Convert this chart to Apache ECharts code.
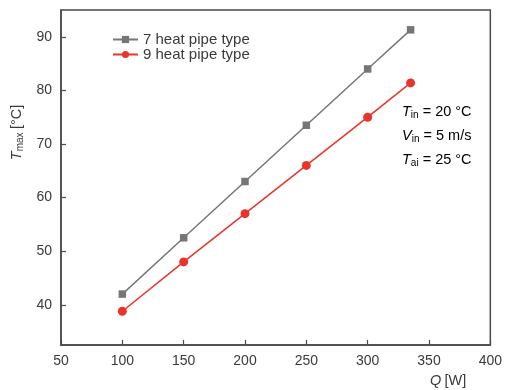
<!DOCTYPE html>
<html><head><meta charset="utf-8">
<script src="https://cdn.jsdelivr.net/npm/echarts@6/dist/echarts.min.js"></script>
<style>html,body{margin:0;padding:0;background:#fff}#c{width:505px;height:390px}</style>
</head><body><div id="c"></div>
<script>
const qValues = [100, 150, 200, 250, 300, 335];
const sevenPipe = [42, 52.5, 63, 73.5, 84, 91.3];
const ninePipe = [38.8, 48, 57, 66, 75, 81.4];
const seriesNames = ['7 heat pipe type', '9 heat pipe type'];
const xTicks = [50, 100, 150, 200, 250, 300, 350, 400];
const yTicks = [40, 50, 60, 70, 80, 90];

const font = 'Liberation Sans, Arial, sans-serif';
const txt = '#3a3a3a';
const chart = echarts.init(document.getElementById('c'));
const rich = {
  i: {fontFamily: font, fontStyle: 'italic', fontSize: 14.5, color: txt},
  r: {fontFamily: font, fontSize: 14.5, color: txt},
  s: {fontFamily: font, fontSize: 10, color: txt, padding: [8, 0, 0, 0]}
};
chart.setOption({
  animation: false,
  grid: {left: 61, right: 14, top: 10, bottom: 45, show: true, borderColor: '#4a4a4a', borderWidth: 1.5},
  legend: {
    orient: 'vertical', left: 107, top: 27, itemGap: 0, itemWidth: 25, itemHeight: 9,
    textStyle: {fontFamily: font, fontSize: 15, color: txt},
    data: seriesNames
  },
  xAxis: {
    type: 'value', min: 50, max: 400, interval: 50,
    name: '{i|Q} {r|[W]}', nameLocation: 'end', nameGap: 0,
    nameTextStyle: {rich: rich, align: 'right', verticalAlign: 'top', padding: [28, 24, 0, 0]},
    axisLine: {show: true, lineStyle: {color: '#4a4a4a', width: 1.5}},
    axisTick: {show: true, inside: true, length: 5, lineStyle: {color: '#4a4a4a', width: 1.2}},
    axisLabel: {fontFamily: font, fontSize: 14, color: txt, margin: 9,
      formatter: v => xTicks.includes(v) ? String(v) : ''},
    splitLine: {show: false}
  },
  yAxis: {
    type: 'value', min: 32.5, max: 95,
    name: '{i|T}{s|max} {r|[°C]}', nameLocation: 'middle', nameGap: 33, nameRotate: 90,
    nameTextStyle: {rich: rich, padding: [0, 0, 0, 90]},
    axisLine: {show: true, lineStyle: {color: '#4a4a4a', width: 1.5}},
    axisTick: {show: true, inside: true, length: 5, lineStyle: {color: '#4a4a4a', width: 1.2},
      customValues: yTicks},
    axisLabel: {fontFamily: font, fontSize: 14, color: txt, margin: 9, customValues: yTicks},
    splitLine: {show: false}
  },
  graphic: [
    {type: 'text', left: 402, top: 104, style: {rich: rich, text: '{i|T}{s|in}{r| = 20 °C}'}},
    {type: 'text', left: 402, top: 128, style: {rich: rich, text: '{i|V}{s|in}{r| = 5 m/s}'}},
    {type: 'text', left: 402, top: 152, style: {rich: rich, text: '{i|T}{s|ai}{r| = 25 °C}'}}
  ],
  series: [
    {name: seriesNames[0], type: 'line', data: qValues.map((q, i) => [q, sevenPipe[i]]),
      symbol: 'rect', symbolSize: 7.5, itemStyle: {color: '#767676'}, lineStyle: {color: '#767676', width: 1.5}},
    {name: seriesNames[1], type: 'line', data: qValues.map((q, i) => [q, ninePipe[i]]),
      symbol: 'circle', symbolSize: 9, itemStyle: {color: '#e8342b'}, lineStyle: {color: '#e8342b', width: 1.5}}
  ]
});
</script></body></html>
